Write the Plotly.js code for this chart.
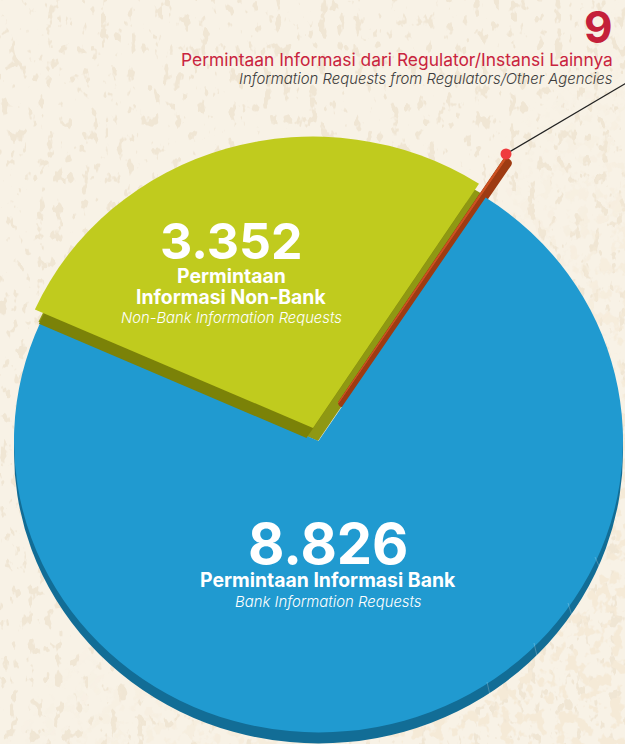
<!DOCTYPE html>
<html><head><meta charset="utf-8">
<script src="https://cdn.plot.ly/plotly-3.0.1.min.js"></script>
<style>
html,body{margin:0;padding:0;width:625px;height:744px;overflow:hidden;background:#f8f2e6}
#bg{position:absolute;left:0;top:0}
#chart{position:absolute;left:-88px;top:0;width:800px;height:900px}
#chart .pielayer{transform-origin:0 0;transform:scaleY(0.957)}
</style></head><body>
<svg id="bg" width="625" height="744" xmlns="http://www.w3.org/2000/svg">
<defs>
<filter id="sp" x="0" y="0" width="100%" height="100%">
<feTurbulence type="fractalNoise" baseFrequency="0.11 0.07" numOctaves="3" seed="23"/>
<feColorMatrix type="matrix" values="0 0 0 0 0.87  0 0 0 0 0.79  0 0 0 0 0.66  0 0 0 14 -8.6"/>
</filter>
<filter id="sp2" x="0" y="0" width="100%" height="100%">
<feTurbulence type="fractalNoise" baseFrequency="0.09 0.08" numOctaves="3" seed="7"/>
<feColorMatrix type="matrix" values="0 0 0 0 0.91  0 0 0 0 0.82  0 0 0 0 0.68  0 0 0 10 -5.2"/>
</filter>
<linearGradient id="fade" x1="0.3" y1="0.2" x2="1" y2="0.9"><stop offset="0.35" stop-color="#000"/><stop offset="0.8" stop-color="#fff"/></linearGradient>
<mask id="m"><rect width="625" height="744" fill="url(#fade)"/></mask>
</defs>
<rect width="625" height="744" fill="#f8f2e6"/>
<rect width="625" height="744" filter="url(#sp)"/>
<rect width="625" height="744" filter="url(#sp2)" mask="url(#m)"/>
</svg>
<div id="chart"></div>
<script>
// Data
const categories = ["Permintaan Informasi Bank", "Permintaan Informasi Non-Bank", "Permintaan Informasi dari Regulator/Instansi Lainnya"];
const categoriesEn = ["Bank Information Requests", "Non-Bank Information Requests", "Information Requests from Regulators/Other Agencies"];
const values = [8826, 3352, 9];

const BLUE = "#209ad0", BLUE_D = "#126d96", LIME = "#c0cb1e", OLIVE_L = "#8f9813", OLIVE_D = "#7b8208",
      BROWN = "#9e3b12", ORANGE = "#cf5322", CLEAR = "rgba(0,0,0,0)", RED = "#c4203a";

const W = 800, H = 900, X0 = 88, S = 0.957, ROT = 33.3;
const fmt = v => String(v).replace(/\B(?=(\d{3})+$)/g, ".");
const px = x => (x + X0) / W, py = y => 1 - y / H;

function pie(idx, color, cx, cy, r, lineW) {
  const colors = [CLEAR, CLEAR, CLEAR]; colors[idx] = color;
  const widths = [0, 0, 0]; widths[idx] = lineW || 0;
  const lines = [CLEAR, CLEAR, CLEAR]; lines[idx] = lineW ? color : CLEAR;
  const c = cy / S;
  return {
    type: "pie", labels: categories, values: values, sort: false, direction: "clockwise",
    rotation: ROT, textinfo: "none", hoverinfo: "skip", showlegend: false,
    marker: {colors: colors, line: {color: lines, width: widths}},
    domain: {x: [px(cx - r), px(cx + r)], y: [1 - (c + r) / H, 1 - (c - r) / H]}
  };
}
const traces = [
  pie(0, BLUE_D, 318.5, 452, 304.5),
  pie(1, OLIVE_L, 318, 441, 306),
  pie(2, BROWN, 342.7, 403, 300, 9),
  pie(2, ORANGE, 338.3, 403, 304, 1),
  pie(0, BLUE, 318.5, 441, 304.5),
  pie(1, OLIVE_D, 306.5, 438, 293),
  pie(1, LIME, 313, 428, 304.5)
];

const FONT = "Inter, 'Open Sans', sans-serif";
function note(text, x, y, size, color, opt) {
  opt = opt || {};
  return {
    text: opt.italic ? "<i>" + text + "</i>" : (opt.bold ? "<b>" + text + "</b>" : text),
    x: px(x), y: py(y), xref: "paper", yref: "paper", showarrow: false,
    xanchor: opt.anchor || "center", yanchor: "middle",
    font: {family: FONT, size: size, color: color, weight: opt.weight || (opt.bold ? 700 : 300)}
  };
}
const annotations = [
  note(fmt(values[2]), 615, 27, 44, RED, {bold: true, anchor: "right"}),
  note(categories[2], 615, 59, 17.4, "#c9243e", {anchor: "right", weight: 400}),
  note(categoriesEn[2], 615, 79, 14.9, "#3d3d3d", {italic: true, anchor: "right"}),
  note(fmt(values[1]), 231, 241, 50, "#fff", {bold: true}),
  note("Permintaan", 231, 276, 19.4, "#fff", {bold: true}),
  note("Informasi Non-Bank", 231, 297, 19.4, "#fff", {bold: true}),
  note(categoriesEn[1], 231, 318, 14.8, "#fff", {italic: true}),
  note(fmt(values[0]), 328, 544, 56, "#fff", {bold: true}),
  note(categories[0], 328, 580, 19.4, "#fff", {bold: true}),
  note(categoriesEn[0], 328, 602, 14.9, "#fff", {italic: true})
];
const seam = (a, b, c, d) => ({type: "line", xref: "paper", yref: "paper", x0: px(a), y0: py(b), x1: px(c), y1: py(d), line: {color: "rgba(255,255,255,0.22)", width: 1}});
const shapes = [
  seam(487, 682, 490, 695), seam(534, 643, 537, 656), seam(568, 603, 572, 616), seam(595, 557, 600, 568),
  {type: "line", xref: "paper", yref: "paper", x0: px(506), y0: py(154), x1: px(628), y1: py(82), line: {color: "#222", width: 1.2}},
  {type: "circle", xref: "paper", yref: "paper", x0: px(500.5), x1: px(511.5), y0: py(148.5), y1: py(159.5), fillcolor: "#ef3b3e", line: {width: 0}}
];
Plotly.newPlot("chart", traces, {
  width: W, height: H, margin: {l: 0, r: 0, t: 0, b: 0},
  paper_bgcolor: "rgba(0,0,0,0)", plot_bgcolor: "rgba(0,0,0,0)",
  showlegend: false, annotations: annotations, shapes: shapes
}, {displayModeBar: false, staticPlot: true});
</script>
</body></html>
